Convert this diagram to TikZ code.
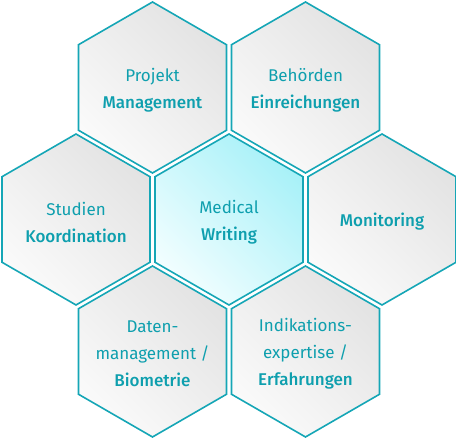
\documentclass[tikz,border=0pt]{standalone}
\usepackage{fontspec}
\setmainfont{Fira Sans}[BoldFont={Fira Sans Medium}]
\usetikzlibrary{shapes.geometric}
\definecolor{teal}{HTML}{15A6B6}
\definecolor{tealtext}{HTML}{0E9FAE}
\definecolor{greyA}{HTML}{E3E3E3}
\definecolor{greyB}{HTML}{FAFAFA}
\definecolor{cyanA}{HTML}{A8F1F8}
\definecolor{cyanB}{HTML}{F2FEFF}
\tikzset{
  hexbox/.style={regular polygon, regular polygon sides=6, shape border rotate=30,
    minimum size=171pt, inner sep=0pt, outer sep=0pt, draw=teal, line width=1.6pt,
    top color=greyA, bottom color=greyB, shading angle=-45},
  hexcenter/.style={hexbox, top color=cyanA, bottom color=cyanB, shading angle=-45},
  lbl/.style={text=tealtext, align=center, font=\fontsize{17}{27}\selectfont}
}
\begin{document}
\begin{tikzpicture}[x=1pt,y=1pt]
\useasboundingbox (0,0) rectangle (456,438);
\node[hexbox] (pm) at (152.5,350.5) {};
\node[hexbox] (be) at (305.5,350.5) {};
\node[hexbox] (sk) at (76,218.5) {};
\node[hexcenter] (mw) at (229,218.5) {};
\node[hexbox] (mo) at (382,218.5) {};
\node[hexbox] (db) at (152.5,86.5) {};
\node[hexbox] (ie) at (305.5,86.5) {};
\node[lbl] (tpm) at ([yshift=-3pt]pm.center) {Projekt\\\textbf{Management}};
\node[lbl] (tbe) at ([yshift=-3pt]be.center) {Behörden\\\textbf{Einreichungen}};
\node[lbl] (tsk) at ([yshift=-3pt]sk.center) {Studien\\\textbf{Koordination}};
\node[lbl] (tmw) at ([yshift=-3pt]mw.center) {Medical\\\textbf{Writing}};
\node[lbl] (tmo) at ([yshift=-2pt]mo.center) {\textbf{Monitoring}};
\node[lbl] (tdb) at ([yshift=-2pt]db.center) {Daten-\\management /\\\textbf{Biometrie}};
\node[lbl] (tie) at ([yshift=-2pt]ie.center) {Indikations-\\expertise /\\\textbf{Erfahrungen}};
\end{tikzpicture}
\end{document}
